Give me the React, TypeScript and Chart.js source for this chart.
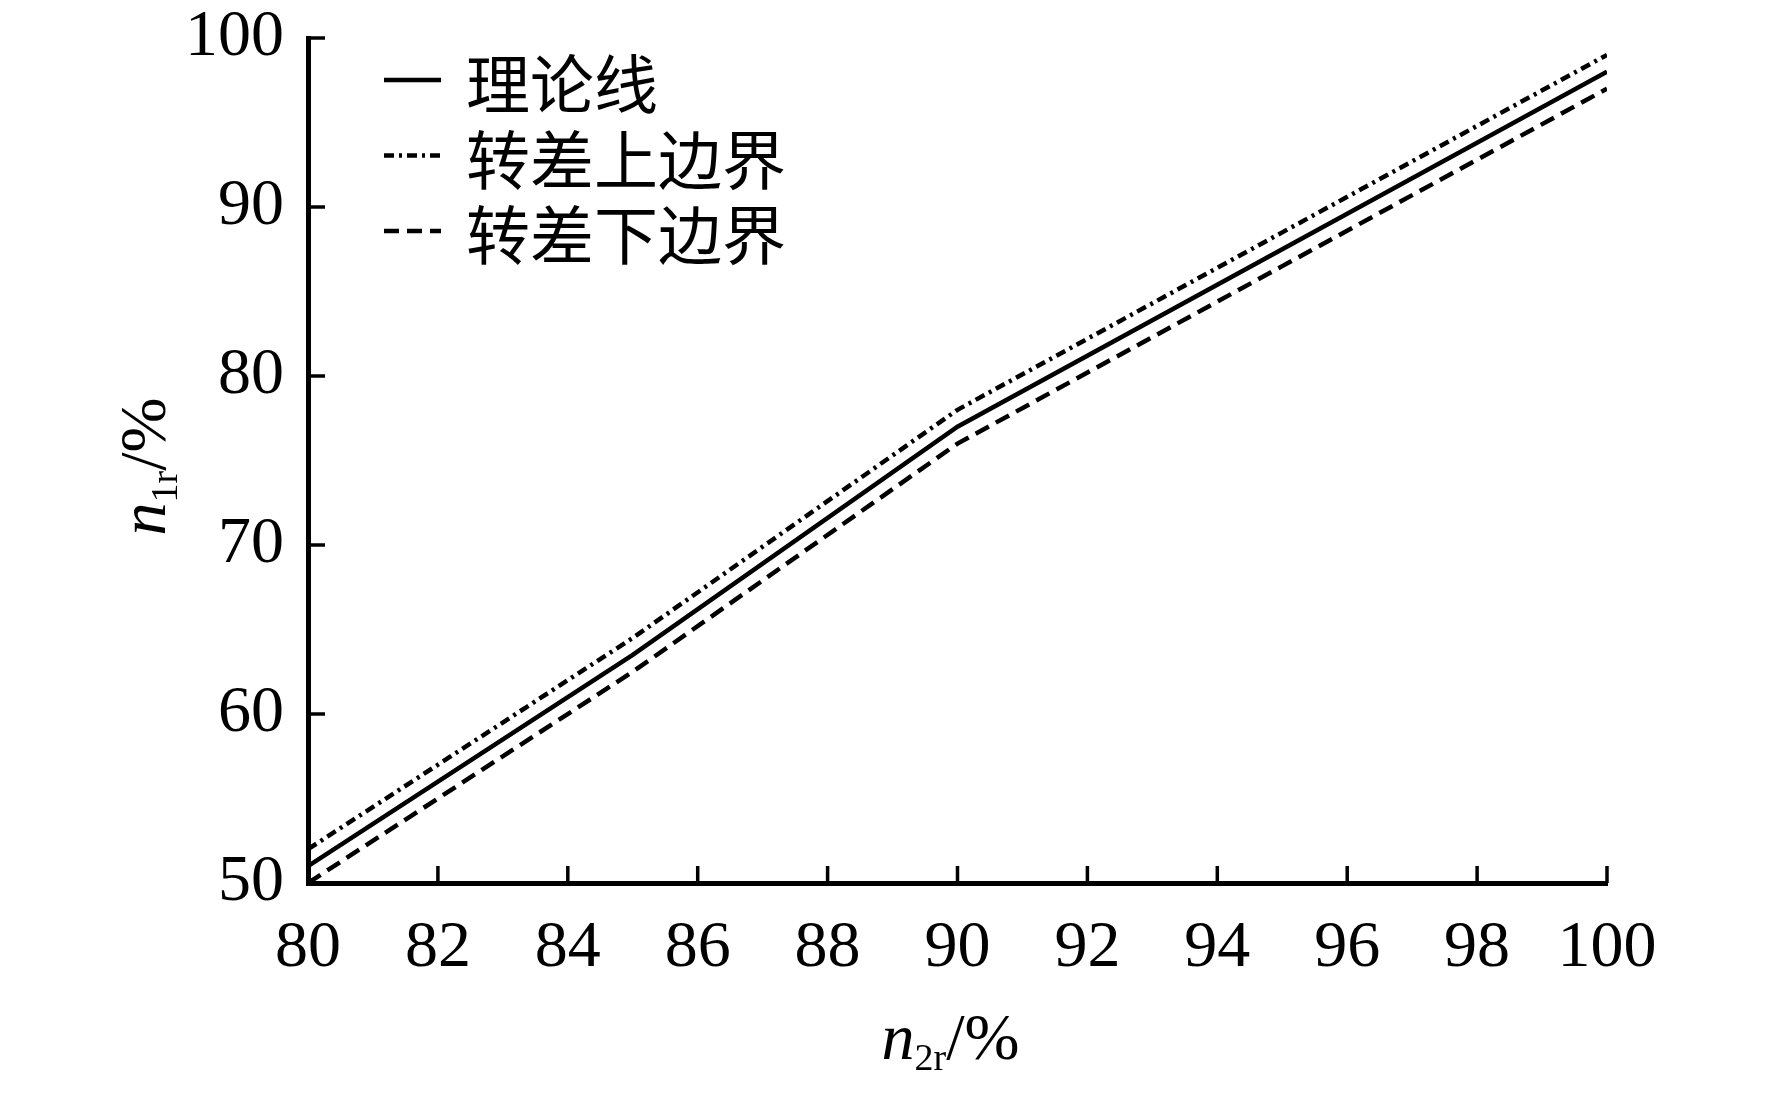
import { useEffect, useRef } from "react";
import { Chart, registerables, type Plugin } from "chart.js";

Chart.register(...registerables);

// n2r (%) on x, n1r (%) on y
const N2R = [80, 85, 90, 95, 100];
const THEORY = [51, 63.5, 77, 87.5, 98];
const UPPER = [52, 64.5, 78, 88.5, 99];
const LOWER = [50, 62.5, 76, 86.5, 97];

const SERIES_NAMES = ["理论线", "转差上边界", "转差下边界"];
const SERIES_DASH = [[], [10, 5, 3, 5], [15, 8]];

const X_MIN = 80, X_MAX = 100, X_STEP = 2;
const Y_MIN = 50, Y_MAX = 100, Y_STEP = 10;

const SERIF = "'Liberation Serif', 'Times New Roman', serif";
const CJK = "'Noto Sans CJK SC', sans-serif";

type Part = { t: string; size: number; italic?: boolean; dy: number };

const X_TITLE: Part[] = [
  { t: "n", size: 66, italic: true, dy: 0 },
  { t: "2r", size: 38, dy: 11 },
  { t: "/%", size: 66, dy: 0 },
];
const Y_TITLE: Part[] = [
  { t: "n", size: 66, italic: true, dy: 0 },
  { t: "1r", size: 38, dy: 12 },
  { t: "/%", size: 66, dy: 0 },
];

function partFont(p: Part) {
  return `${p.italic ? "italic " : ""}${p.size}px ${SERIF}`;
}

// draws a title made of parts, centred horizontally on 0, baseline on 0
function drawParts(ctx: CanvasRenderingContext2D, parts: Part[]) {
  let total = 0;
  parts.forEach((p) => {
    ctx.font = partFont(p);
    total += ctx.measureText(p.t).width;
  });
  let x = -total / 2;
  ctx.textAlign = "left";
  ctx.textBaseline = "alphabetic";
  parts.forEach((p) => {
    ctx.font = partFont(p);
    ctx.fillText(p.t, x, p.dy);
    x += ctx.measureText(p.t).width;
  });
}

const decorations: Plugin<"line"> = {
  id: "decorations",
  afterDraw(chart) {
    const { ctx, chartArea, scales } = chart;
    const xs = scales.x;
    const ys = scales.y;
    ctx.save();
    ctx.fillStyle = "#000";
    ctx.strokeStyle = "#000";

    // inward tick marks
    ctx.lineWidth = 3.5;
    ctx.setLineDash([]);
    xs.ticks.forEach((t) => {
      const px = xs.getPixelForValue(t.value);
      ctx.beginPath();
      ctx.moveTo(px, chartArea.bottom);
      ctx.lineTo(px, chartArea.bottom - 17);
      ctx.stroke();
    });
    ys.ticks.forEach((t) => {
      const py = ys.getPixelForValue(t.value);
      ctx.beginPath();
      ctx.moveTo(chartArea.left, py);
      ctx.lineTo(chartArea.left + 17, py);
      ctx.stroke();
    });

    // legend
    chart.data.datasets.forEach((ds, i) => {
      const y = chartArea.top + 42 + i * 75.5;
      ctx.lineWidth = 4.5;
      ctx.setLineDash((ds.borderDash as number[]) ?? []);
      ctx.beginPath();
      ctx.moveTo(384, y);
      ctx.lineTo(441, y);
      ctx.stroke();
      ctx.setLineDash([]);
      ctx.font = `64px ${CJK}`;
      ctx.textAlign = "left";
      ctx.textBaseline = "middle";
      ctx.fillText(String(ds.label), 466, y + 4);
    });

    // axis titles
    ctx.save();
    ctx.translate((chartArea.left + chartArea.right) / 2 - 7, chartArea.bottom + 176);
    drawParts(ctx, X_TITLE);
    ctx.restore();

    ctx.save();
    ctx.translate(chartArea.left - 143, (chartArea.top + chartArea.bottom) / 2 + 6);
    ctx.rotate(-Math.PI / 2);
    drawParts(ctx, Y_TITLE);
    ctx.restore();

    ctx.restore();
  },
};

export default function App() {
  const canvasRef = useRef<HTMLCanvasElement>(null);
  const chartRef = useRef<Chart | null>(null);

  useEffect(() => {
    document.body.style.margin = "0";
    if (!canvasRef.current) return;
    chartRef.current?.destroy();

    const seriesData = [THEORY, UPPER, LOWER];
    chartRef.current = new Chart(canvasRef.current, {
      type: "line",
      data: {
        datasets: seriesData.map((vals, i) => ({
          label: SERIES_NAMES[i],
          data: N2R.map((x, j) => ({ x, y: vals[j] })),
          borderColor: "#000",
          borderWidth: 4.5,
          borderDash: SERIES_DASH[i],
          pointRadius: 0,
          tension: 0,
          fill: false,
        })),
      },
      options: {
        animation: false,
        responsive: true,
        maintainAspectRatio: false,
        layout: { padding: { top: 38, right: 165, left: 0, bottom: 0 } },
        plugins: {
          legend: { display: false },
          tooltip: { enabled: false },
        },
        scales: {
          x: {
            type: "linear",
            min: X_MIN,
            max: X_MAX,
            grid: { display: false, drawTicks: false },
            border: { display: true, color: "#000", width: 5 },
            ticks: {
              stepSize: X_STEP,
              color: "#000",
              padding: 33,
              maxRotation: 0,
              font: { family: SERIF, size: 66, lineHeight: 1 },
            },
            afterFit: (s) => {
              s.height = 210;
            },
          },
          y: {
            type: "linear",
            min: Y_MIN,
            max: Y_MAX,
            grid: { display: false, drawTicks: false },
            border: { display: true, color: "#000", width: 5 },
            ticks: {
              stepSize: Y_STEP,
              color: "#000",
              padding: 24,
              font: { family: SERIF, size: 66, lineHeight: 0.4 },
            },
            afterFit: (s) => {
              s.width = 308;
            },
          },
        },
      },
      plugins: [decorations],
    });

    return () => {
      chartRef.current?.destroy();
      chartRef.current = null;
    };
  }, []);

  return (
    <div style={{ width: 1772, height: 1093, position: "relative", background: "#fff" }}>
      <canvas ref={canvasRef} />
    </div>
  );
}
